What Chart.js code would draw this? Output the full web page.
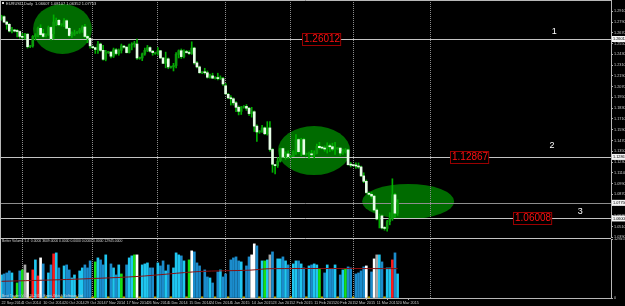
<!DOCTYPE html>
<html><head><meta charset="utf-8">
<script src="https://cdn.jsdelivr.net/npm/chart.js@4"></script>
<style>
html,body{margin:0;padding:0;background:#000;overflow:hidden;}
#wrap{position:relative;width:625px;height:306px;background:#000;}
canvas{position:absolute;left:0;}
#c1{top:0;} #c2{top:238px;}
</style></head><body>
<div id="wrap"><canvas id="c1" width="625" height="238"></canvas><canvas id="c2" width="625" height="68"></canvas></div>
<script>
// ---------------- DATA ----------------
const open = [1.2830,1.2850,1.2790,1.2765,1.2690,1.2700,1.2690,1.2685,1.2630,1.2620,
1.2655,1.2515,1.2525,1.2630,1.2645,1.2720,1.2660,1.2630,1.2650,1.2730,
1.2660,1.2790,1.2810,1.2760,1.2765,1.2805,1.2720,1.2640,1.2655,1.2670,
1.2680,1.2700,1.2735,1.2630,1.2610,1.2510,1.2505,1.2485,1.2545,1.2475,
1.2375,1.2450,1.2455,1.2410,1.2480,1.2440,1.2475,1.2520,1.2510,1.2450,
1.2535,1.2545,1.2545,1.2385,1.2390,1.2435,1.2475,1.2505,1.2465,1.2440,
1.2445,1.2470,1.2390,1.2330,1.2380,1.2285,1.2290,1.2305,1.2430,1.2470,
1.2405,1.2460,1.2450,1.2440,1.2500,1.2335,1.2290,1.2225,1.2230,1.2225,
1.2175,1.2190,1.2165,1.2170,1.2160,1.2160,1.2080,1.1985,1.1945,1.1935,
1.1890,1.1840,1.1795,1.1840,1.1850,1.1830,1.1770,1.1790,1.1630,1.1565,
1.1575,1.1610,1.1545,1.1610,1.1370,1.1200,1.1190,1.1240,1.1380,1.1290,
1.1320,1.1290,1.1295,1.1345,1.1480,1.1345,1.1480,1.1315,1.1320,1.1320,
1.1310,1.1330,1.1405,1.1390,1.1385,1.1375,1.1410,1.1400,1.1375,1.1380,
1.1385,1.1330,1.1345,1.1365,1.1200,1.1195,1.1190,1.1185,1.1175,1.1075,
1.1015,1.0880,1.0870,1.0850,1.0695,1.0595,1.0630,1.0495,1.0490,1.0565,
1.0600,1.0865,1.0660];
const high = [1.2866,1.2860,1.2800,1.2775,1.2730,1.2710,1.2705,1.2690,1.2665,1.2665,
1.2660,1.2530,1.2640,1.2660,1.2735,1.2760,1.2710,1.2660,1.2745,1.2740,
1.2870,1.2835,1.2820,1.2770,1.2830,1.2815,1.2730,1.2680,1.2700,1.2685,
1.2720,1.2750,1.2765,1.2645,1.2615,1.2525,1.2510,1.2575,1.2555,1.2530,
1.2475,1.2465,1.2460,1.2500,1.2495,1.2490,1.2545,1.2530,1.2515,1.2545,
1.2560,1.2575,1.2600,1.2400,1.2445,1.2500,1.2530,1.2515,1.2475,1.2455,
1.2505,1.2475,1.2395,1.2455,1.2390,1.2300,1.2330,1.2450,1.2480,1.2490,
1.2480,1.2475,1.2470,1.2570,1.2510,1.2350,1.2300,1.2235,1.2275,1.2245,
1.2210,1.2220,1.2180,1.2220,1.2190,1.2175,1.2105,1.1995,1.1970,1.1945,
1.1905,1.1855,1.1850,1.1860,1.1870,1.1840,1.1840,1.1800,1.1645,1.1580,
1.1640,1.1620,1.1680,1.1680,1.1380,1.1205,1.1280,1.1385,1.1385,1.1345,
1.1355,1.1305,1.1355,1.1535,1.1490,1.1495,1.1495,1.1330,1.1340,1.1360,
1.1355,1.1430,1.1450,1.1400,1.1410,1.1445,1.1430,1.1440,1.1450,1.1390,
1.1390,1.1375,1.1380,1.1375,1.1225,1.1205,1.1220,1.1220,1.1185,1.1110,
1.1030,1.0895,1.0890,1.0860,1.0710,1.0650,1.0640,1.0510,1.0580,1.0665,
1.1043,1.0880,1.0810];
const low = [1.2810,1.2785,1.2710,1.2680,1.2670,1.2680,1.2625,1.2610,1.2605,1.2600,
1.2500,1.2505,1.2510,1.2590,1.2625,1.2640,1.2620,1.2625,1.2640,1.2590,
1.2600,1.2750,1.2750,1.2745,1.2740,1.2715,1.2625,1.2620,1.2640,1.2660,
1.2665,1.2675,1.2620,1.2560,1.2500,1.2495,1.2440,1.2440,1.2465,1.2365,
1.2358,1.2440,1.2390,1.2395,1.2425,1.2420,1.2445,1.2500,1.2445,1.2445,
1.2480,1.2510,1.2375,1.2375,1.2360,1.2420,1.2460,1.2455,1.2420,1.2430,
1.2420,1.2385,1.2325,1.2280,1.2270,1.2275,1.2245,1.2280,1.2390,1.2385,
1.2390,1.2445,1.2430,1.2430,1.2320,1.2280,1.2220,1.2215,1.2210,1.2165,
1.2165,1.2160,1.2155,1.2145,1.2150,1.2085,1.1985,1.1935,1.1865,1.1865,
1.1790,1.1755,1.1760,1.1830,1.1805,1.1750,1.1730,1.1570,1.1460,1.1550,
1.1560,1.1535,1.1530,1.1350,1.1115,1.1098,1.1170,1.1230,1.1285,1.1260,
1.1270,1.1280,1.1290,1.1315,1.1330,1.1300,1.1310,1.1305,1.1270,1.1290,
1.1275,1.1320,1.1375,1.1375,1.1350,1.1330,1.1345,1.1355,1.1315,1.1370,
1.1305,1.1315,1.1330,1.1195,1.1175,1.1185,1.1160,1.1160,1.1070,1.1000,
1.0880,1.0860,1.0825,1.0685,1.0585,1.0495,1.0485,1.0470,1.0460,1.0530,
1.0580,1.0615,1.0635];
const close = [1.2850,1.2790,1.2765,1.2690,1.2710,1.2690,1.2685,1.2630,1.2620,1.2655,
1.2515,1.2525,1.2630,1.2645,1.2720,1.2650,1.2630,1.2650,1.2730,1.2605,
1.2790,1.2810,1.2760,1.2765,1.2805,1.2720,1.2640,1.2655,1.2670,1.2680,
1.2700,1.2735,1.2630,1.2610,1.2525,1.2505,1.2485,1.2545,1.2475,1.2375,
1.2455,1.2455,1.2410,1.2480,1.2440,1.2475,1.2525,1.2510,1.2450,1.2535,
1.2545,1.2545,1.2390,1.2390,1.2435,1.2475,1.2505,1.2465,1.2450,1.2445,
1.2470,1.2390,1.2330,1.2380,1.2290,1.2290,1.2305,1.2430,1.2470,1.2405,
1.2460,1.2450,1.2440,1.2500,1.2335,1.2290,1.2225,1.2230,1.2225,1.2175,
1.2190,1.2165,1.2170,1.2160,1.2160,1.2100,1.1990,1.1945,1.1935,1.1890,
1.1840,1.1795,1.1840,1.1850,1.1830,1.1770,1.1790,1.1630,1.1565,1.1575,
1.1610,1.1545,1.1610,1.1370,1.1205,1.1190,1.1240,1.1380,1.1290,1.1320,
1.1290,1.1295,1.1345,1.1480,1.1345,1.1480,1.1315,1.1320,1.1320,1.1310,
1.1330,1.1405,1.1390,1.1385,1.1375,1.1410,1.1400,1.1375,1.1380,1.1385,
1.1330,1.1345,1.1365,1.1200,1.1195,1.1190,1.1185,1.1175,1.1075,1.1015,
1.0890,1.0870,1.0850,1.0695,1.0595,1.0630,1.0495,1.0490,1.0565,1.0600,
1.0865,1.0660,1.0775];
const volume = [5060,5280,5500,5940,5500,250,3300,5940,6160,7260,
5500,250,6160,8360,4840,8800,7480,250,5500,7260,
9680,9900,6600,250,7040,7260,6160,4400,5060,250,
5940,6600,7260,6600,8140,250,7920,8800,8360,7260,
9460,250,7480,6600,5060,7260,5280,250,7260,8800,
9240,9460,9460,250,7260,7480,7700,6600,6600,250,
7700,7040,8140,5940,7260,250,6600,9900,9460,9240,
8140,250,8360,10340,10120,7700,7040,250,6160,4620,
4400,3300,250,5720,6160,4620,5280,250,8360,8800,
9020,8140,7920,250,7040,9020,9460,11880,11440,250,
8140,8140,8360,9460,10120,250,8580,8580,9020,8140,
7260,250,7480,8140,8140,7480,6600,250,7040,7260,
7480,7260,6380,250,5500,7260,6380,6380,7260,250,
5060,6160,6380,6820,6600,250,5280,5500,5940,6820,
7040,250,5720,8580,9460,9460,7920,250,6600,6600,
8360,9900,5280];
// Better Volume bar class: n normal, s low (yellow), r climax up, w climax down, g churn, k high churn
const volumeType = ("nnnnnsgngk"+"wsrnrwnsnn"+"rnnsnnnnns"+"nnnnnsgnnn"+"nsnnnngsnn"+
  "ngwsnnnnns"+"nnnnnsnnnn"+"nsgwnnnsnn"+"nnsnnnnsnn"+"nnnsnnwwns"+"ngnknsnnnn"+
  "nsnnnnnsnn"+"nngsnnnnns"+"nngnnsnnnn"+"wsnwknnsnn"+"rnn").split('');
const maBars = [0, 25, 52, 76, 95, 103, 152];
const maValues = [3660, 4060, 4720, 5810, 6100, 6430, 6450];
const priceTicks = [1.2910,1.2790,1.2670,1.2550,1.2430,1.2310,1.2190,1.2070,1.1950,1.1830,1.1710,
  1.1590,1.1470,1.1350,1.1230,1.1110,1.0990,1.0870,1.0750,1.0630,1.0510,1.0390];
const dateLabels = ['22 Sep 2014','1 Oct 2014','10 Oct 2014','20 Oct 2014','29 Oct 2014','7 Nov 2014',
  '17 Nov 2014','26 Nov 2014','5 Dec 2014','15 Dec 2014','24 Dec 2014','5 Jan 2015','14 Jan 2015',
  '23 Jan 2015','2 Feb 2015','11 Feb 2015','20 Feb 2015','2 Mar 2015','11 Mar 2015','20 Mar 2015'];
const dateTickBars = [0,8,16,24,32,40,48,56,64,72,80,88,96,104,112,120,128,136,144,152];
const levelPrices = [1.26012, 1.12867, 1.06008];
const levelTexts = ['1.26012', '1.12867', '1.06008'];
const zoneNames = ['1', '2', '3'];
const volumeMax = 12945;
const titleText = 'EURUSD,Daily  1.06607 1.08107 1.06352 1.07753';
const volumeHeader = 'Better Volume 1.4  0.0000 3609.0000 0.0000 0.0000 0.0000 0.0000 12945.0000';
const volumeFooter = 'Best Trader (c) 2010-2014, Emini-Watch Software Ltd.';

// ---------------- LAYOUT / STYLE ----------------
const X_MIN = -0.58, X_MAX = 233.9;
const Y_MIN = 1.0383, Y_MAX = 1.3036;
const monthGrid = [7.8, 34.7, 59.7, 85.8, 110.7, 134.9, 164.5];
const ellipses = [
  {b0: 12.1, b1: 34.7, p0: 1.2991, p1: 1.2434},
  {b0: 106.1, b1: 133.8, p0: 1.1631, p1: 1.1085},
  {b0: 138.4, b1: 173.7, p0: 1.0985, p1: 1.0595}
];
const levelBoxBars = [115.4, 172.2, 196.4];
const zoneNamePos = [{b: 212.1, p: 1.2690}, {b: 211.3, p: 1.1409}, {b: 222.1, p: 1.0673}];
const FONT = '"Liberation Sans", Arial, sans-serif';
const AXIS_FS = 3.8;
Chart.defaults.font.family = FONT;

const idx = close.map((_, i) => i);
const wickData = idx.map(i => ({x: i, y: [low[i], high[i]]}));
const bodyData = idx.map(i => ({x: i, y: [open[i], close[i]]}));
const bodyColors = idx.map(i => close[i] >= open[i] ? '#0c9a0c' : '#e8ffe8');

const fixRight = s => { s.width = 14; s.paddingTop = 0; s.paddingBottom = 0; };

function drawMonthGrid(chart) {
  const {ctx, scales: {x}, chartArea: a} = chart;
  ctx.save();
  ctx.strokeStyle = '#8c8c8c'; ctx.lineWidth = 1; ctx.setLineDash([1, 1]);
  monthGrid.forEach(b => {
    const px = Math.round(x.getPixelForValue(b)) + 0.5;
    ctx.beginPath(); ctx.moveTo(px, a.top); ctx.lineTo(px, a.bottom); ctx.stroke();
  });
  ctx.restore();
}

const mainDecor = {
  id: 'mainDecor',
  beforeDraw(chart) {
    const c = chart.ctx; c.save(); c.fillStyle = '#000'; c.fillRect(0, 0, chart.width, chart.height); c.restore();
  },
  beforeDatasetsDraw(chart) {
    const {ctx, scales: {x, y}, chartArea: a} = chart;
    ctx.save();
    ctx.fillStyle = '#006b00';
    ellipses.forEach(e => {
      const x1 = x.getPixelForValue(e.b0), x2 = x.getPixelForValue(e.b1);
      const y1 = y.getPixelForValue(e.p0), y2 = y.getPixelForValue(e.p1);
      ctx.beginPath();
      ctx.ellipse((x1 + x2) / 2, (y1 + y2) / 2, Math.abs(x2 - x1) / 2, Math.abs(y2 - y1) / 2, 0, 0, Math.PI * 2);
      ctx.fill();
    });
    ctx.restore();
    drawMonthGrid(chart);
    ctx.save();
    ctx.lineWidth = 1;
    levelPrices.forEach(p => {
      const py = Math.round(y.getPixelForValue(p)) + 0.5;
      ctx.strokeStyle = '#c4c4c4';
      ctx.beginPath(); ctx.moveTo(a.left, py); ctx.lineTo(a.right, py); ctx.stroke();
    });
    const last = close[close.length - 1];
    const ly = Math.round(y.getPixelForValue(last)) + 0.5;
    ctx.strokeStyle = '#8e8e8e';
    ctx.beginPath(); ctx.moveTo(a.left, ly); ctx.lineTo(a.right, ly); ctx.stroke();
    ctx.restore();
  },
  afterDraw(chart) {
    const {ctx, scales: {x, y}, chartArea: a} = chart;
    ctx.save();
    ctx.strokeStyle = '#b8b8b8'; ctx.lineWidth = 1;
    ctx.beginPath(); ctx.moveTo(0, 0.5); ctx.lineTo(a.right, 0.5); ctx.stroke();
    ctx.beginPath(); ctx.moveTo(0.5, 0); ctx.lineTo(0.5, a.bottom); ctx.stroke();
    ctx.font = '10px ' + FONT; ctx.textBaseline = 'middle'; ctx.textAlign = 'left';
    levelPrices.forEach((p, k) => {
      const t = levelTexts[k];
      const w = ctx.measureText(t).width + 2;
      const bx = Math.round(x.getPixelForValue(levelBoxBars[k])) + 0.5;
      const by = Math.round(y.getPixelForValue(p));
      ctx.fillStyle = '#000'; ctx.fillRect(bx, by - 6, w, 12);
      ctx.strokeStyle = '#9a0000'; ctx.strokeRect(bx, by - 6 + 0.5, w, 12);
      ctx.fillStyle = '#ff1010'; ctx.fillText(t, bx + 1.5, by + 0.5);
    });
    ctx.font = '9px ' + FONT; ctx.fillStyle = '#ffffff'; ctx.textAlign = 'center';
    zoneNamePos.forEach((z, k) => ctx.fillText(zoneNames[k], x.getPixelForValue(z.b), y.getPixelForValue(z.p)));
    const last = close[close.length - 1];
    const boxes = levelPrices.map((p, k) => ({p, t: levelTexts[k]})).concat([{p: last, t: last.toFixed(5)}]);
    ctx.font = AXIS_FS + 'px ' + FONT; ctx.textAlign = 'left';
    boxes.forEach(b => {
      const py = y.getPixelForValue(b.p);
      ctx.fillStyle = '#f4f4f4'; ctx.fillRect(a.right + 1, py - 3, 14, 6);
      ctx.fillStyle = '#000'; ctx.fillText(b.t, a.right + 2, py + 0.3);
    });
    ctx.fillStyle = '#dcdcdc'; ctx.fillRect(2, 2, 2, 2);
    ctx.fillStyle = '#d8d8d8'; ctx.font = '4px ' + FONT; ctx.textBaseline = 'middle';
    ctx.fillText(titleText, 6, 3.5);
    ctx.restore();
  }
};

new Chart(document.getElementById('c1'), {
  type: 'bar',
  data: {
    datasets: [
      {data: bodyData, backgroundColor: bodyColors, barThickness: 2, grouped: false, minBarLength: 1, order: 0},
      {data: wickData, backgroundColor: '#00b000', barThickness: 1, grouped: false, order: 1}
    ]
  },
  options: {
    responsive: false, devicePixelRatio: 1, animation: false, events: [],
    layout: {padding: 0},
    plugins: {legend: {display: false}, tooltip: {enabled: false}},
    scales: {
      x: {type: 'linear', min: X_MIN, max: X_MAX, display: false, offset: false},
      y: {
        type: 'linear', position: 'right', min: Y_MIN, max: Y_MAX,
        afterBuildTicks: s => { s.ticks = priceTicks.map(v => ({value: v})); },
        afterFit: fixRight,
        ticks: {callback: v => Number(v).toFixed(4), color: '#c8c8c8', font: {size: AXIS_FS}, padding: 1, autoSkip: false},
        grid: {drawOnChartArea: false, drawTicks: true, tickLength: 2, color: '#b0b0b0'},
        border: {display: true, color: '#b8b8b8'}
      }
    }
  },
  plugins: [mainDecor]
});

// ---------------- VOLUME PANEL ----------------
const volColorMap = {r: '#ff1a1a', w: '#ffffff', g: '#16e016', k: '#a8a8a8', s: '#d8c000'};
const volColors = idx.map(i => {
  const t = volumeType[i];
  if (t !== 'n') return volColorMap[t];
  return close[i] >= open[i] ? '#1fc6f0' : '#1b8ccc';
});
const volDecor = {
  id: 'volDecor',
  beforeDraw(chart) {
    const c = chart.ctx; c.save(); c.fillStyle = '#000'; c.fillRect(0, 0, chart.width, chart.height); c.restore();
  },
  beforeDatasetsDraw(chart) { drawMonthGrid(chart); },
  afterDraw(chart) {
    const {ctx, chartArea: a} = chart;
    ctx.save();
    ctx.strokeStyle = '#c4c4c4'; ctx.lineWidth = 1;
    ctx.beginPath(); ctx.moveTo(0, 0.5); ctx.lineTo(a.right, 0.5); ctx.stroke();
    ctx.beginPath(); ctx.moveTo(0.5, 0); ctx.lineTo(0.5, a.bottom); ctx.stroke();
    ctx.fillStyle = '#d0d0d0'; ctx.font = '3.4px ' + FONT; ctx.textBaseline = 'middle'; ctx.textAlign = 'left';
    ctx.fillText(volumeHeader, 2, 3.5);
    ctx.fillText(volumeFooter, 2, a.bottom - 2);
    ctx.restore();
  }
};

new Chart(document.getElementById('c2'), {
  type: 'bar',
  data: {
    datasets: [
      {type: 'line', data: maBars.map((b, k) => ({x: b, y: maValues[k]})), borderColor: '#8a1010', borderWidth: 1, pointRadius: 0, tension: 0.3, order: -1},
      {data: idx.map(i => ({x: i, y: volume[i]})), backgroundColor: volColors, barThickness: 2, grouped: false, order: 1}
    ]
  },
  options: {
    responsive: false, devicePixelRatio: 1, animation: false, events: [],
    layout: {padding: {top: 1, left: 0, right: 0, bottom: 0}},
    plugins: {legend: {display: false}, tooltip: {enabled: false}},
    scales: {
      x: {
        type: 'linear', min: X_MIN, max: X_MAX, offset: false, position: 'bottom',
        afterBuildTicks: s => { s.ticks = dateTickBars.map(v => ({value: v})); },
        afterFit: s => { s.height = 8; s.paddingLeft = 0; s.paddingRight = 0; },
        ticks: {callback: (v, k) => dateLabels[k], align: 'start', maxRotation: 0, autoSkip: false,
                color: '#c8c8c8', font: {size: AXIS_FS}, padding: 1},
        grid: {drawOnChartArea: false, drawTicks: true, tickLength: 2, color: '#b0b0b0'},
        border: {display: true, color: '#b8b8b8'}
      },
      y: {
        type: 'linear', position: 'right', min: 0, max: volumeMax,
        afterBuildTicks: s => { s.ticks = [{value: 0}, {value: volumeMax}]; },
        afterFit: fixRight,
        ticks: {callback: v => String(v), color: '#c8c8c8', font: {size: AXIS_FS}, padding: 1},
        grid: {drawOnChartArea: false, drawTicks: true, tickLength: 2, color: '#b0b0b0'},
        border: {display: true, color: '#b8b8b8'}
      }
    }
  },
  plugins: [volDecor]
});
</script>
</body></html>
